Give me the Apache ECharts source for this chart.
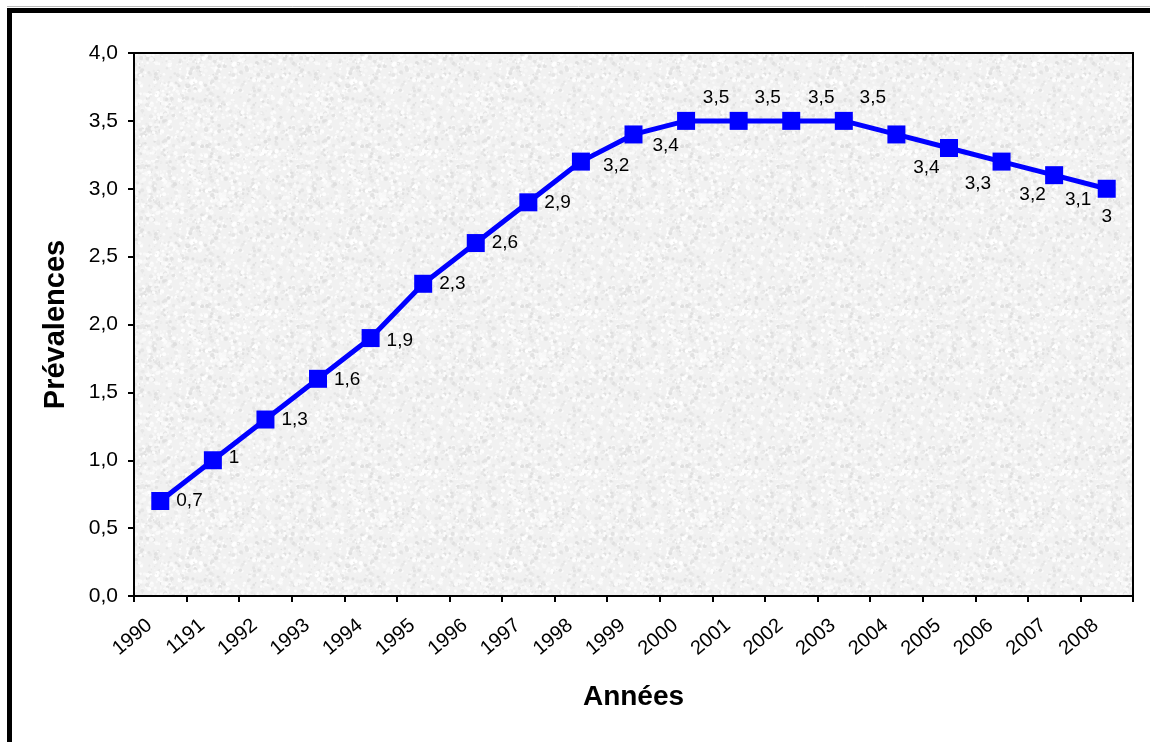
<!DOCTYPE html>
<html>
<head>
<meta charset="utf-8">
<script src="https://cdn.jsdelivr.net/npm/echarts@6/dist/echarts.min.js"></script>
<style>html,body{margin:0;padding:0;background:#fff}#c{width:1150px;height:742px}</style>
</head>
<body>
<div id="c"></div>
<script>
var categories = ['1990','1191','1992','1993','1994','1995','1996','1997','1998','1999','2000','2001','2002','2003','2004','2005','2006','2007','2008'];
var prevalences = [0.7,1.0,1.3,1.6,1.9,2.3,2.6,2.9,3.2,3.4,3.5,3.5,3.5,3.5,3.4,3.3,3.2,3.1,3.0];
var yTicks = {min:0, max:4, interval:0.5};

// label placement styles (not data)
var labelStyles = [
  {position:'right', distance:7, offset:[0,0]},
  {position:'right', distance:7, offset:[0,-2]},
  {position:'right', distance:7, offset:[0,0]},
  {position:'right', distance:7, offset:[0,1]},
  {position:'right', distance:7, offset:[0,3]},
  {position:'right', distance:7, offset:[0,0]},
  {position:'right', distance:7, offset:[0,0]},
  {position:'right', distance:7, offset:[0,0]},
  {position:'right', distance:13, offset:[0,4]},
  {position:'right', distance:10, offset:[0,11]},
  {position:'inside', offset:[30,-23]},
  {position:'inside', offset:[29,-23]},
  {position:'inside', offset:[30,-23]},
  {position:'inside', offset:[29,-23]},
  {position:'inside', offset:[30,33]},
  {position:'inside', offset:[29,36]},
  {position:'inside', offset:[31,33]},
  {position:'inside', offset:[24,25]},
  {position:'inside', offset:[0,28]}
];

function fr(v, d){ return (d==null? String(v) : v.toFixed(d)).replace('.', ','); }

// deterministic speckle texture for plot background
function makeTexture(){
  var s = 160, cv = document.createElement('canvas');
  cv.width = s; cv.height = s;
  var ctx = cv.getContext('2d');
  ctx.fillStyle = '#f1f1f1'; ctx.fillRect(0,0,s,s);
  var h = 12345;
  function nx(){ h = (h * 1103515245 + 12345) & 0x7fffffff; return h / 0x7fffffff; }
  for (var i=0;i<2200;i++){
    var x = nx()*s, y = nx()*s, r = 0.6 + nx()*1.6, g = nx();
    var c = g < 0.4 ? Math.round(222 + nx()*16) : Math.round(246 + nx()*9);
    ctx.fillStyle = 'rgb('+c+','+c+','+c+')';
    ctx.beginPath(); ctx.arc(x,y,r,0,Math.PI*2); ctx.fill();
  }
  return cv;
}

var chart = echarts.init(document.getElementById('c'), null, {renderer:'canvas'});
var data = prevalences.map(function(v,i){
  var ls = labelStyles[i];
  return {value:v, label:{position:ls.position, distance:ls.distance, offset:ls.offset}};
});
var font = 'Liberation Sans, Arial, sans-serif';
chart.setOption({
  backgroundColor:'#ffffff',
  animation:false,
  grid:{left:134, right:17, top:53, bottom:146, show:true, borderColor:'#000', borderWidth:2,
        backgroundColor:{image:makeTexture(), repeat:'repeat'}},
  xAxis:{
    type:'category', data:categories, boundaryGap:true,
    name:'Années', nameLocation:'middle', nameGap:87,
    nameTextStyle:{fontFamily:font, fontWeight:'bold', fontSize:28, color:'#000'},
    axisLine:{lineStyle:{color:'#000', width:2}},
    axisTick:{show:true, length:6, lineStyle:{color:'#000', width:2}},
    axisLabel:{rotate:40, margin:18, padding:[0,14,0,0], fontFamily:font, fontSize:20, color:'#000'},
    splitLine:{show:false}
  },
  yAxis:{
    type:'value', min:yTicks.min, max:yTicks.max, interval:yTicks.interval,
    name:'Prévalences', nameLocation:'middle', nameGap:64,
    nameTextStyle:{fontFamily:font, fontWeight:'bold', fontSize:29, color:'#000'},
    axisLine:{show:true, lineStyle:{color:'#000', width:2}},
    axisTick:{show:true, length:6, lineStyle:{color:'#000', width:2}},
    axisLabel:{margin:16, fontFamily:font, fontSize:21, color:'#000', formatter:function(v){return fr(v,1);}},
    splitLine:{show:false}
  },
  series:[{
    type:'line', data:data,
    symbol:'rect', symbolSize:18,
    lineStyle:{color:'#0000ff', width:5},
    itemStyle:{color:'#0000ff'},
    label:{show:true, fontFamily:font, fontSize:19, color:'#000',
           formatter:function(p){return fr(p.value);}}
  }],
  graphic:[
    {type:'line', shape:{x1:7, y1:10.5, x2:1150, y2:10.5}, style:{stroke:'#000', lineWidth:5}, z:100},
    {type:'line', shape:{x1:9.5, y1:8, x2:9.5, y2:742}, style:{stroke:'#000', lineWidth:5}, z:100},
    {type:'line', shape:{x1:7, y1:6.5, x2:1150, y2:6.5}, style:{stroke:'#bbb', lineWidth:1}, z:100}
  ]
});
</script>
</body>
</html>
